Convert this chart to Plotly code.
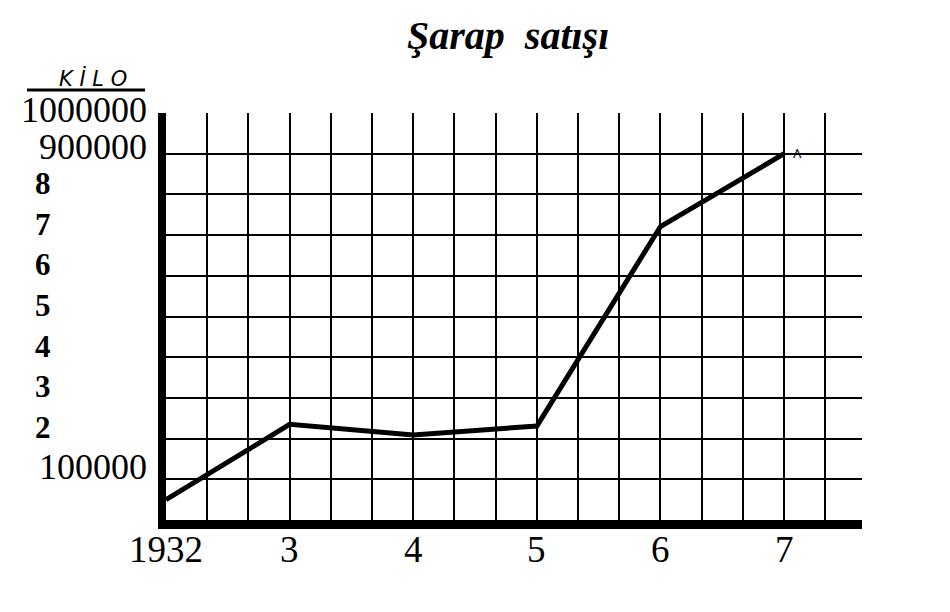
import plotly.graph_objects as go

# ---- data ----
years = [1932, 1933, 1934, 1935, 1936, 1937]
sales_kilo = [50000, 235000, 209000, 231000, 721000, 900000]
x_tick_labels = ["1932", "3", "4", "5", "6", "7"]
y_tick_values = [1000000, 900000, 800000, 700000, 600000, 500000, 400000, 300000, 200000, 100000]
y_tick_labels = ["1000000", "900000", "8", "7", "6", "5", "4", "3", "2", "100000"]
title_text = "Şarap  satışı"
unit_text = "K İ L O"

SERIF = "Liberation Serif"
L, R, T, B = 166, 862, 113, 520
W, H = 950, 612

fig = go.Figure()
fig.add_trace(go.Scatter(
    x=years, y=sales_kilo, mode="lines",
    line=dict(color="black", width=5),
    hoverinfo="skip", showlegend=False, cliponaxis=False,
))

fig.update_layout(
    width=W, height=H,
    margin=dict(l=L, r=W - R, t=T, b=H - B, pad=0),
    paper_bgcolor="white", plot_bgcolor="white",
    showlegend=False,
    xaxis=dict(
        range=[1932, 1937.63],
        tickmode="array", tickvals=years,
        showticklabels=False, ticks="",
        showgrid=True, gridcolor="black", gridwidth=1.5,
        minor=dict(tick0=1932, dtick=1/3, showgrid=True, gridcolor="black", gridwidth=1.5, ticks=""),
        showline=True, linecolor="black", linewidth=9,
        zeroline=False, fixedrange=True,
    ),
    yaxis=dict(
        range=[0, 1000000],
        tickmode="linear", tick0=0, dtick=100000,
        showticklabels=False, ticks="",
        showgrid=True, gridcolor="black", gridwidth=1.5,
        showline=True, linecolor="black", linewidth=8,
        zeroline=False, fixedrange=True,
    ),
)

# x labels, placed on the x scale
for yr, lab in zip(years, x_tick_labels):
    fig.add_annotation(x=yr, xref="x", y=0, yref="paper", text=lab,
                       xanchor="center", yanchor="middle", yshift=-29, showarrow=False,
                       font=dict(family=SERIF, size=37, color="black"))

# y labels: long numbers right-aligned, single digits left-aligned
for val, lab in zip(y_tick_values, y_tick_labels):
    if len(lab) > 1:
        if val == max(y_tick_values):
            shift = 3
        elif val == min(y_tick_values):
            shift = 12
        else:
            shift = 7
        fig.add_annotation(x=0, xref="paper", y=val, yref="y", text=lab,
                           xanchor="right", yanchor="middle", xshift=-17, yshift=shift,
                           showarrow=False,
                           font=dict(family=SERIF, size=36, color="black"))
    else:
        fig.add_annotation(x=0, xref="paper", y=val, yref="y", text="<b>" + lab + "</b>",
                           xanchor="left", yanchor="middle", xshift=-133, yshift=11,
                           showarrow=False,
                           font=dict(family=SERIF, size=31, color="black"))

# title
fig.add_annotation(x=0.491, xref="paper", y=1, yref="paper", text="<b><i>" + title_text + "</i></b>",
                   xanchor="center", yanchor="middle", yshift=T - 35, showarrow=False,
                   font=dict(family=SERIF, size=40, color="black"))

# unit label with underline
fig.add_annotation(x=0, xref="paper", y=1, yref="paper", text="<i>" + unit_text + "</i>",
                   xanchor="center", yanchor="middle", xshift=93 - L, yshift=T - 78, showarrow=False,
                   font=dict(family="DejaVu Sans", size=21, color="black"))
fig.add_shape(type="line", xref="paper", yref="paper",
              x0=(27 - L) / (R - L), x1=(145 - L) / (R - L), y0=1 + (T - 90) / (B - T), y1=1 + (T - 90) / (B - T),
              line=dict(color="black", width=3))

# small caret mark near last point
fig.add_annotation(x=years[-1], xref="x", y=sales_kilo[-1], yref="y", text="<b>^</b>",
                   xanchor="center", yanchor="middle", xshift=13, yshift=-2, showarrow=False,
                   font=dict(family=SERIF, size=18, color="black"))

fig.write_html("out.html")
